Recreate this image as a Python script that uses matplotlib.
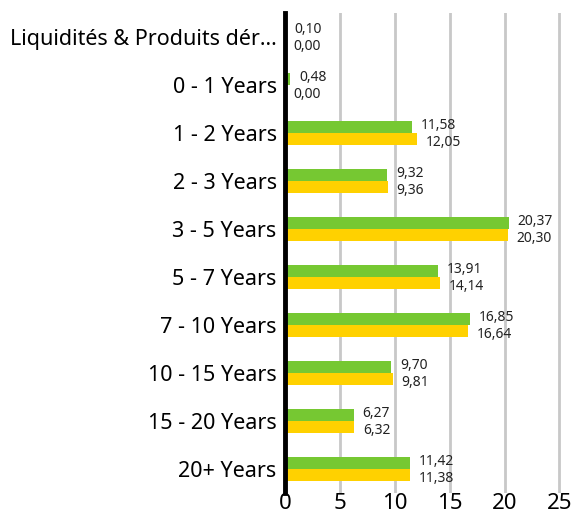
import numpy as np
import matplotlib.pyplot as plt

# Maturity buckets and weights (%) for the two series
categories = ['Liquidités & Produits dér...', '0 - 1 Years', '1 - 2 Years', '2 - 3 Years',
              '3 - 5 Years', '5 - 7 Years', '7 - 10 Years', '10 - 15 Years',
              '15 - 20 Years', '20+ Years']
fund = [0.10, 0.48, 11.58, 9.32, 20.37, 13.91, 16.85, 9.70, 6.27, 11.42]
benchmark = [0.00, 0.00, 12.05, 9.36, 20.30, 14.14, 16.64, 9.81, 6.32, 11.38]
x_ticks = [0, 5, 10, 15, 20, 25]

green = '#76c832'
yellow = '#ffd100'

plt.rcParams['font.family'] = ['Noto Sans', 'DejaVu Sans']

fig = plt.figure(figsize=(5.74, 5.16), dpi=100)
ax = fig.add_axes([0.4965, 0.045, 0.482, 0.93])

y = np.arange(len(categories))
h = 0.25
ax.barh(y - h / 2, fund, height=h, color=green, zorder=3)
ax.barh(y + h / 2, benchmark, height=h, color=yellow, zorder=3)

# value labels, comma decimal
for i in range(len(categories)):
    ax.text(fund[i] + 0.8, y[i] - h / 2 - 0.02, f'{fund[i]:.2f}'.replace('.', ','),
            va='center', ha='left', fontsize=10, color='#222222')
    ax.text(benchmark[i] + 0.8, y[i] + h / 2 + 0.08, f'{benchmark[i]:.2f}'.replace('.', ','),
            va='center', ha='left', fontsize=10, color='#222222')

ax.set_ylim(len(categories) - 0.5, -0.5)
ax.set_xlim(0, 25.2)
ax.set_yticks(y)
ax.set_yticklabels(categories, fontsize=15.5)
ax.set_xticks(x_ticks)
ax.set_xticklabels([str(t) for t in x_ticks], fontsize=16)
ax.tick_params(axis='y', length=0, pad=6)
ax.tick_params(axis='x', length=0, pad=0)

ax.grid(axis='x', color='#c8c8c8', linewidth=2, zorder=0)
for s in ['top', 'right', 'bottom']:
    ax.spines[s].set_visible(False)
ax.spines['left'].set_linewidth(3.5)
ax.spines['left'].set_color('black')
ax.spines['left'].set_zorder(4)

fig.savefig('out.png', dpi=100)
